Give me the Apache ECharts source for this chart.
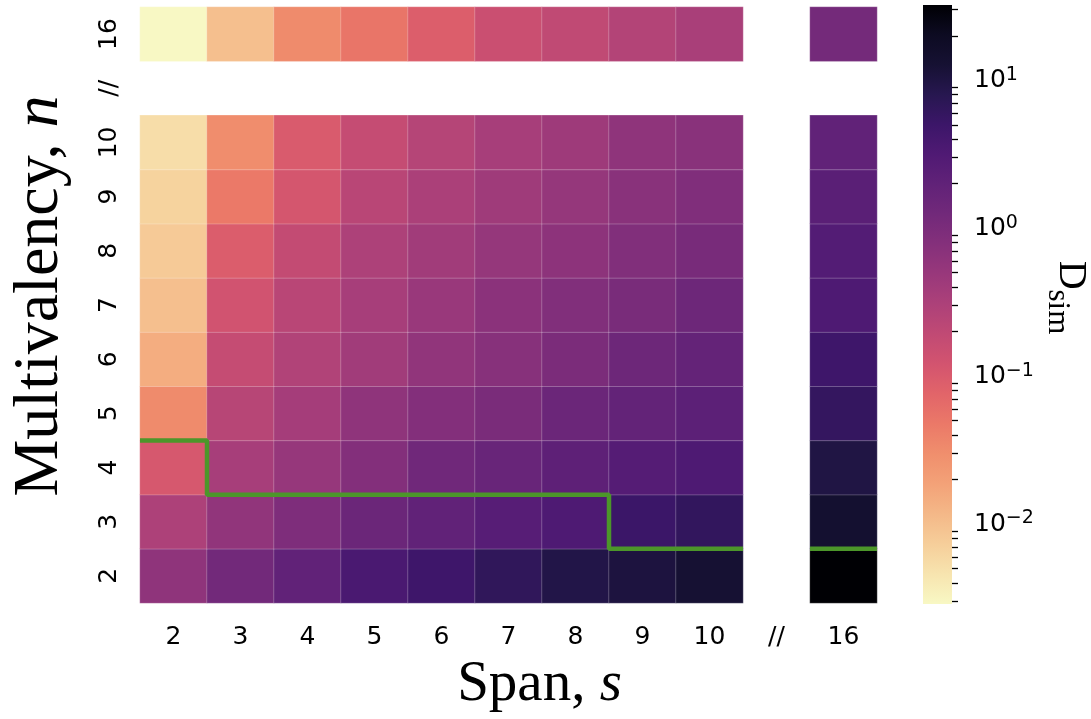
<!DOCTYPE html>
<html>
<head>
<meta charset="utf-8">
<title>D_sim heatmap</title>
<script src="https://cdn.jsdelivr.net/npm/echarts@6.0.0/dist/echarts.min.js"></script>
<style>
  html, body { margin: 0; padding: 0; background: #fff; }
  #chart { width: 1091px; height: 719px; }
</style>
</head>
<body>
<div id="chart"></div>
<script>
// axis categories, '//' is the axis break slot
const spans = ['2', '3', '4', '5', '6', '7', '8', '9', '10', '//', '16']
const valencies = ['2', '3', '4', '5', '6', '7', '8', '9', '10', '//', '16']

// spans that hold values, in column order
const valueSpans = ['2', '3', '4', '5', '6', '7', '8', '9', '10', '16']

// D_sim for each multivalency n (one value per span above)
const dsimN2 = [0.61, 1.23, 1.97, 3.57, 4.78, 6.6, 9.1, 10.5, 12.8, 32.3]
const dsimN3 = [0.305, 0.585, 0.93, 1.49, 1.97, 2.6, 3.29, 5.1, 6.3, 13.9]
const dsimN4 = [0.109, 0.35, 0.52, 0.81, 1.29, 1.63, 2.16, 2.73, 3.29, 9.6]
const dsimN5 = [0.0325, 0.24, 0.37, 0.61, 0.81, 1.02, 1.49, 1.88, 2.27, 6.0]
const dsimN6 = [0.0147, 0.174, 0.278, 0.40, 0.585, 0.74, 0.98, 1.42, 1.79, 4.8]
const dsimN7 = [0.0101, 0.126, 0.23, 0.35, 0.485, 0.67, 0.85, 1.04, 1.42, 3.29]
const dsimN8 = [0.0080, 0.095, 0.18, 0.305, 0.40, 0.53, 0.65, 0.85, 1.07, 2.86]
const dsimN9 = [0.00665, 0.047, 0.115, 0.23, 0.32, 0.42, 0.53, 0.705, 0.87, 2.37]
const dsimN10 = [0.00527, 0.031, 0.0996, 0.174, 0.253, 0.35, 0.43, 0.61, 0.705, 1.97]
const dsimN16 = [0.00288, 0.0100, 0.0325, 0.052, 0.0906, 0.151, 0.195, 0.265, 0.335, 1.18]

// lowest n that sits above the green boundary, per span (none at the break)
const boundaryN = [5, 4, 4, 4, 4, 4, 4, 3, 3, null, 3]

// colour bar ticks, as decades of D_sim
const majorDecades = [-2, -1, 0, 1]
const minorMantissas = [2, 3, 4, 5, 6, 7, 8, 9]

// magma, dark -> light
const MAGMA = [
  '#000004', '#0b0924', '#140e36', '#251255', '#3b0f70', '#51127c', '#641a80',
  '#782281', '#8c2981', '#a1307e', '#b73779', '#cc3f71', '#de4968', '#ed5a5f',
  '#f7705c', '#fc8961', '#fe9f6d', '#feb77e', '#fecf92', '#fde7a9', '#fcfdbf'
]

// the printed figure looks a touch washed out, so pull each stop toward its grey
function soften(hex, k) {
  const c = [1, 3, 5].map(i => parseInt(hex.slice(i, i + 2), 16))
  const l = (Math.max(...c) + Math.min(...c)) / 2
  return 'rgb(' + c.map(v => Math.round(v + (l - v) * k)).join(',') + ')'
}
const CMAP = MAGMA.map(c => soften(c, 0.15))

const rows = [
  ['2', dsimN2], ['3', dsimN3], ['4', dsimN4], ['5', dsimN5], ['6', dsimN6],
  ['7', dsimN7], ['8', dsimN8], ['9', dsimN9], ['10', dsimN10], ['16', dsimN16]
]

const heatData = []
rows.forEach(([n, vals]) => {
  const yi = valencies.indexOf(n)
  vals.forEach((v, j) => {
    heatData.push([spans.indexOf(valueSpans[j]), yi, Math.log10(v), v])
  })
})

const allVals = rows.flatMap(r => r[1])
const LMIN = Math.log10(Math.min(...allVals))
const LMAX = Math.log10(Math.max(...allVals))

// step boundary, split where the axis breaks
const segments = []
let cur = []
boundaryN.forEach((b, i) => {
  if (b === null) {
    if (cur.length) segments.push(cur)
    cur = []
    return
  }
  const y = valencies.indexOf(String(b)) - 0.5
  cur.push([i - 0.5, y], [i + 0.5, y])
})
if (cur.length) segments.push(cur)

const minorTicks = []
for (let d = -3; d <= 1; d++) {
  minorMantissas.forEach(m => {
    const t = d + Math.log10(m)
    if (t >= LMIN && t <= LMAX) minorTicks.push(t)
  })
}

const SUP = { '-2': '\u22122', '-1': '\u22121', '0': '0', '1': '1' }

const tickFont = 'DejaVu Sans'
const titleFont = 'Liberation Serif'

const chart = echarts.init(document.getElementById('chart'), null, { renderer: 'canvas' })

const option = {
  animation: false,
  backgroundColor: '#fff',
  grid: [
    { left: 140, top: 7, width: 737, height: 597 },
    { left: 923, top: 5, width: 30, height: 599 }
  ],
  visualMap: {
    type: 'continuous',
    show: false,
    seriesIndex: 0,
    dimension: 2,
    min: LMIN,
    max: LMAX,
    inRange: { color: CMAP.slice().reverse() }
  },
  xAxis: [
    {
      type: 'category',
      gridIndex: 0,
      data: spans,
      axisLine: { show: false },
      axisTick: { alignWithLabel: true, length: 10, lineStyle: { color: '#000', width: 1.6 } },
      axisLabel: { color: '#000', fontFamily: tickFont, fontSize: 25, margin: 22 },
      splitLine: { show: false },
      name: '{r|Span, }{i|s}',
      nameLocation: 'middle',
      nameGap: 54,
      nameTextStyle: {
        padding: [0, 0, 0, 62],
        rich: {
          r: { fontFamily: titleFont, fontSize: 57, color: '#000' },
          i: { fontFamily: titleFont, fontSize: 57, fontStyle: 'italic', color: '#000' }
        }
      }
    },
    { type: 'value', gridIndex: 0, min: -0.5, max: 10.5, show: false },
    { type: 'value', gridIndex: 1, min: 0, max: 1, show: false }
  ],
  yAxis: [
    {
      type: 'category',
      gridIndex: 0,
      data: valencies,
      axisLine: { show: false },
      axisTick: { alignWithLabel: true, length: 10, lineStyle: { color: '#000', width: 1.6 } },
      axisLabel: { color: '#000', fontFamily: tickFont, fontSize: 25, rotate: 90, margin: 18 },
      splitLine: { show: false },
      name: '{r|Multivalency, }{i|n}',
      nameLocation: 'middle',
      nameRotate: 90,
      nameGap: 68,
      nameTextStyle: {
        padding: [0, 0, 0, 18],
        rich: {
          r: { fontFamily: titleFont, fontSize: 64, color: '#000' },
          i: { fontFamily: titleFont, fontSize: 64, fontStyle: 'italic', color: '#000' }
        }
      }
    },
    { type: 'value', gridIndex: 0, min: -0.5, max: 10.5, show: false },
    {
      type: 'value',
      gridIndex: 1,
      position: 'right',
      min: LMIN,
      max: LMAX,
      axisLine: { show: false },
      splitLine: { show: false },
      axisTick: { show: true, customValues: majorDecades, length: 10, lineStyle: { color: '#000', width: 1.6 } },
      axisLabel: {
        customValues: majorDecades,
        margin: 22,
        formatter: v => '{b|10}{s|' + SUP[String(Math.round(v))] + '}',
        rich: {
          b: { fontFamily: tickFont, fontSize: 25, lineHeight: 30, color: '#000' },
          s: { fontFamily: tickFont, fontSize: 19, lineHeight: 19, verticalAlign: 'top', color: '#000' }
        }
      },
      name: '{d|D}{s|sim}',
      nameLocation: 'middle',
      nameRotate: -90,
      nameGap: 90,
      nameTextStyle: {
        padding: [0, 14, 0, 0],
        rich: {
          d: { fontFamily: titleFont, fontSize: 40, lineHeight: 56, color: '#000' },
          s: { fontFamily: titleFont, fontSize: 31, lineHeight: 31, verticalAlign: 'bottom', color: '#000' }
        }
      }
    },
    {
      type: 'value',
      gridIndex: 1,
      position: 'right',
      min: LMIN,
      max: LMAX,
      axisLine: { show: false },
      splitLine: { show: false },
      axisTick: { show: true, customValues: minorTicks, length: 6, lineStyle: { color: '#000', width: 1.3 } },
      axisLabel: { show: false }
    }
  ],
  series: [
    {
      type: 'heatmap',
      xAxisIndex: 0,
      yAxisIndex: 0,
      data: heatData,
      itemStyle: { borderColor: 'rgba(255,255,255,0.24)', borderWidth: 1 },
      emphasis: { disabled: true }
    },
    ...segments.map(seg => ({
      type: 'line',
      xAxisIndex: 1,
      yAxisIndex: 1,
      data: seg,
      showSymbol: false,
      symbol: 'none',
      clip: false,
      z: 5,
      lineStyle: { color: '#4c962a', width: 4.5 }
    })),
    {
      type: 'custom',
      xAxisIndex: 2,
      yAxisIndex: 2,
      data: [[0, LMIN]],
      renderItem: (params, api) => {
        const top = api.coord([0, LMAX])
        const bottom = api.coord([1, LMIN])
        return {
          type: 'rect',
          shape: { x: top[0], y: top[1], width: bottom[0] - top[0], height: bottom[1] - top[1] },
          style: {
            fill: new echarts.graphic.LinearGradient(0, 0, 0, 1,
              CMAP.map((c, i) => ({ offset: i / (CMAP.length - 1), color: c })))
          }
        }
      }
    }
  ]
}

chart.setOption(option)
</script>
</body>
</html>
